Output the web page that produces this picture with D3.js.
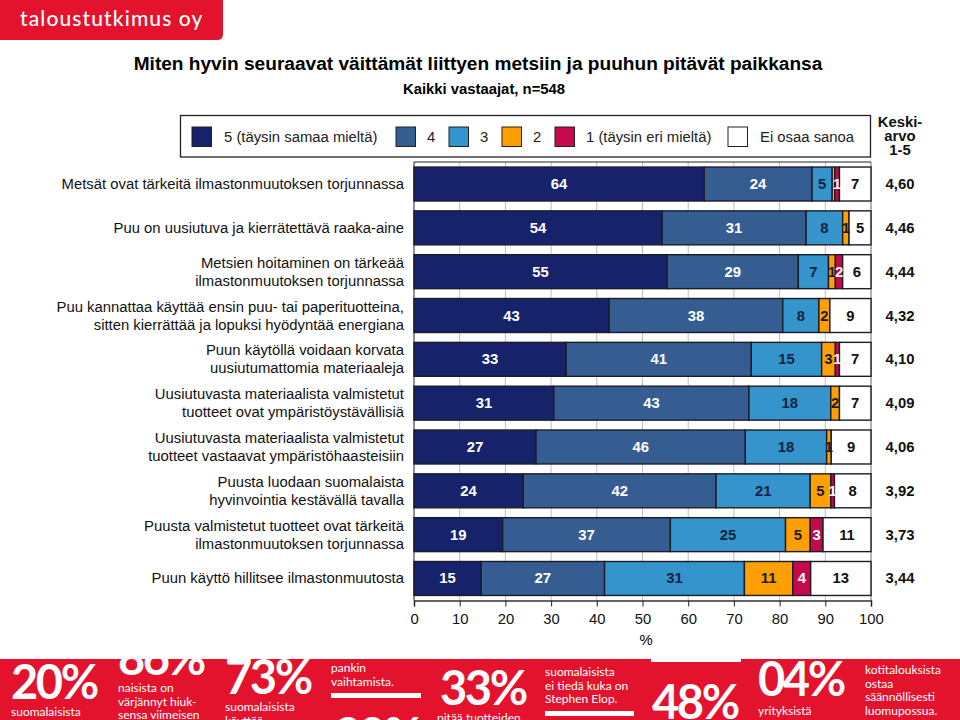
<!DOCTYPE html>
<html lang="fi">
<head>
<meta charset="utf-8">
<title>Metsät ja puu</title>
<script src="https://cdn.jsdelivr.net/npm/d3@7"></script>
<style>
    html, body { margin: 0; padding: 0; background: #fff; }
    svg { display: block; }
    text { font-family: "Liberation Sans", Arial, sans-serif; }
    .promo text { font-family: Lato, sans-serif; fill: #fff; }
</style>
</head>
<body>
<script>
"use strict";

// Data:
var statements = [
    ["Metsät ovat tärkeitä ilmastonmuutoksen torjunnassa"],
    ["Puu on uusiutuva ja kierrätettävä raaka-aine"],
    ["Metsien hoitaminen on tärkeää", "ilmastonmuutoksen torjunnassa"],
    ["Puu kannattaa käyttää ensin puu- tai paperituotteina,", "sitten kierrättää ja lopuksi hyödyntää energiana"],
    ["Puun käytöllä voidaan korvata", "uusiutumattomia materiaaleja"],
    ["Uusiutuvasta materiaalista valmistetut", "tuotteet ovat ympäristöystävällisiä"],
    ["Uusiutuvasta materiaalista valmistetut", "tuotteet vastaavat ympäristöhaasteisiin"],
    ["Puusta luodaan suomalaista", "hyvinvointia kestävällä tavalla"],
    ["Puusta valmistetut tuotteet ovat tärkeitä", "ilmastonmuutoksen torjunnassa"],
    ["Puun käyttö hillitsee ilmastonmuutosta"]
];

var answerNames = ["5 (täysin samaa mieltä)", "4", "3", "2", "1 (täysin eri mieltä)", "Ei osaa sanoa"];
var answerColors = ["#16236a", "#355d92", "#3494cb", "#ff9f00", "#c40a4a", "#ffffff"];
var labelColors = ["#ffffff", "#ffffff", "#14233f", "#1a1a1a", "#ffffff", "#111111"];

var shares5 = [63.5, 54.3, 55.4, 42.7, 33.3, 30.6, 26.7, 23.9, 19.4, 14.7];
var shares4 = [23.6, 31.5, 28.7, 38.0, 40.5, 42.7, 45.8, 42.2, 36.7, 27.0];
var shares3 = [4.4, 8.0, 6.6, 7.9, 15.4, 17.9, 17.8, 20.6, 25.2, 30.6];
var shares2 = [0.6, 1.4, 1.5, 2.4, 3.0, 1.9, 1.0, 4.5, 5.4, 10.6];
var shares1 = [1.0, 0, 1.6, 0, 0.9, 0, 0, 0.8, 2.8, 3.9];
var sharesEos = [6.9, 4.8, 6.2, 9.0, 6.9, 6.9, 8.7, 8.0, 10.5, 13.2];

// Printed labels, "" = no label in the picture
var labels5 = ["64", "54", "55", "43", "33", "31", "27", "24", "19", "15"];
var labels4 = ["24", "31", "29", "38", "41", "43", "46", "42", "37", "27"];
var labels3 = ["5", "8", "7", "8", "15", "18", "18", "21", "25", "31"];
var labels2 = ["", "1", "1", "2", "3", "2", "1", "5", "5", "11"];
var labels1 = ["1", "", "2", "", "1", "", "", "1", "3", "4"];
var labelsEos = ["7", "5", "6", "9", "7", "7", "9", "8", "11", "13"];

var means = ["4,60", "4,46", "4,44", "4,32", "4,10", "4,09", "4,06", "3,92", "3,73", "3,44"];
var xTicks = [0, 10, 20, 30, 40, 50, 60, 70, 80, 90, 100];

var allShares = [shares5, shares4, shares3, shares2, shares1, sharesEos];
var allLabels = [labels5, labels4, labels3, labels2, labels1, labelsEos];

// Layout:
var width = 960, height = 720;
var plot = { left: 414, right: 871, top: 162, bottom: 600.5 };
var legendX = [192, 396, 449, 502, 555, 728];
var fontSize = "14.85px";

var svg = d3.select("body").append("svg")
    .attr("width", width)
    .attr("height", height);

var x = d3.scaleLinear().domain([0, 100]).range([plot.left, plot.right]);
var y = d3.scaleBand()
    .domain(d3.range(statements.length))
    .range([plot.top, plot.bottom])
    .paddingInner(0.225)
    .paddingOuter(0.115);

var rows = statements.map(function (s, i) {
    var row = { index: i };
    allShares.forEach(function (serie, k) { row[k] = serie[i]; });
    return row;
});
var stacked = d3.stack().keys(d3.range(allShares.length))(rows);

drawHeader();
drawGrid();
drawBars();
drawLabels();
drawLegend();
drawPromo();

function drawHeader() {
    svg.append("path")
        .attr("d", "M0,0H223V34Q223,40 217,40H0Z")
        .attr("fill", "#e4132d");
    svg.append("text")
        .attr("x", 20).attr("y", 26)
        .attr("fill", "#fff")
        .style("font-family", "Lato, sans-serif")
        .style("font-size", "21px")
        .style("font-weight", 500)
        .style("letter-spacing", "1.1px")
        .text("taloustutkimus oy");
    svg.append("text")
        .attr("x", 478).attr("y", 70)
        .attr("text-anchor", "middle")
        .style("font-size", "19.1px").style("font-weight", "bold")
        .text("Miten hyvin seuraavat väittämät liittyen metsiin ja puuhun pitävät paikkansa");
    svg.append("text")
        .attr("x", 484).attr("y", 94)
        .attr("text-anchor", "middle")
        .style("font-size", fontSize).style("font-weight", "bold")
        .text("Kaikki vastaajat, n=548");
}

function drawGrid() {
    svg.append("g").selectAll("line")
        .data(xTicks.slice(1, -1))
        .enter().append("line")
        .attr("x1", x).attr("x2", x)
        .attr("y1", plot.top).attr("y2", plot.bottom)
        .attr("stroke", "#bdbdbd");

    svg.append("line")
        .attr("x1", plot.right).attr("x2", plot.right)
        .attr("y1", plot.top).attr("y2", plot.bottom)
        .attr("stroke", "#9a9a9a").attr("stroke-width", 1.5);
    svg.append("line")
        .attr("x1", plot.left).attr("x2", plot.right)
        .attr("y1", plot.top).attr("y2", plot.top)
        .attr("stroke", "#222");
    svg.append("line")
        .attr("x1", plot.left).attr("x2", plot.left)
        .attr("y1", plot.top).attr("y2", plot.bottom)
        .attr("stroke", "#222");

    var axis = svg.append("g")
        .attr("transform", "translate(0," + plot.bottom + ")")
        .call(d3.axisBottom(x).tickValues(xTicks).tickSize(6).tickPadding(7));
    axis.select(".domain").attr("stroke", "#333").attr("stroke-width", 1.5);
    axis.selectAll("line").attr("stroke", "#222");
    axis.selectAll("text")
        .attr("fill", "#111")
        .style("font-family", "'Liberation Sans', Arial, sans-serif")
        .style("font-size", fontSize);

    svg.append("text")
        .attr("x", 646).attr("y", 645)
        .attr("text-anchor", "middle")
        .style("font-size", fontSize)
        .text("%");
}

function drawBars() {
    svg.append("g").selectAll("g")
        .data(stacked)
        .enter().append("g")
        .attr("fill", function (d) { return answerColors[d.key]; })
        .selectAll("rect")
        .data(function (d) { return d.filter(function (p) { return p[1] > p[0]; }); })
        .enter().append("rect")
        .attr("x", function (d) { return x(d[0]); })
        .attr("y", function (d) { return y(d.data.index); })
        .attr("width", function (d) { return x(d[1]) - x(d[0]); })
        .attr("height", y.bandwidth())
        .attr("stroke", "#1c1c28")
        .attr("stroke-width", 1.4);
}

function drawLabels() {
    // values inside the bars
    stacked.forEach(function (serie) {
        svg.append("g").selectAll("text")
            .data(serie)
            .enter().append("text")
            .attr("x", function (d) { return x((d[0] + d[1]) / 2); })
            .attr("y", function (d) { return y(d.data.index) + y.bandwidth() / 2 + 5; })
            .attr("text-anchor", "middle")
            .attr("fill", labelColors[serie.key])
            .style("font-size", fontSize)
            .style("font-weight", "bold")
            .text(function (d) { return allLabels[serie.key][d.data.index]; });
    });

    // statements on the left
    var cats = svg.append("g").selectAll("text")
        .data(statements)
        .enter().append("text")
        .attr("text-anchor", "end")
        .attr("fill", "#111")
        .style("font-size", fontSize);
    cats.selectAll("tspan")
        .data(function (d, i) {
            return d.map(function (line, n) {
                var mid = y(i) + y.bandwidth() / 2 + 5;
                return { line: line, y: mid + (n - (d.length - 1) / 2) * 18 };
            });
        })
        .enter().append("tspan")
        .attr("x", 404)
        .attr("y", function (d) { return d.y; })
        .text(function (d) { return d.line; });

    // means on the right
    svg.append("g").selectAll("text")
        .data(means)
        .enter().append("text")
        .attr("x", 900)
        .attr("y", function (d, i) { return y(i) + y.bandwidth() / 2 + 5; })
        .attr("text-anchor", "middle")
        .attr("fill", "#111")
        .style("font-size", fontSize).style("font-weight", "bold")
        .text(function (d) { return d; });

    svg.append("g").selectAll("text")
        .data(["Keski-", "arvo", "1-5"])
        .enter().append("text")
        .attr("x", 900)
        .attr("y", function (d, i) { return 127 + i * 14; })
        .attr("text-anchor", "middle")
        .attr("fill", "#111")
        .style("font-size", fontSize).style("font-weight", "bold")
        .text(function (d) { return d; });
}

function drawLegend() {
    svg.append("rect")
        .attr("x", 180.5).attr("y", 115.5)
        .attr("width", 690).attr("height", 41.5)
        .attr("fill", "#fff")
        .attr("stroke", "#222").attr("stroke-width", 1.3);

    var items = svg.append("g").selectAll("g")
        .data(answerNames)
        .enter().append("g")
        .attr("transform", function (d, i) { return "translate(" + legendX[i] + ",127)"; });
    items.append("rect")
        .attr("width", 19.5).attr("height", 19.5)
        .attr("fill", function (d, i) { return answerColors[i]; })
        .attr("stroke", "#222");
    items.append("text")
        .attr("x", function (d, i) { return i == 0 || i == 5 ? 32 : 31; })
        .attr("y", 14.5)
        .attr("fill", "#222")
        .style("font-size", fontSize)
        .text(function (d) { return d; });
}

// Advert strip along the bottom edge, cut off by the page
function drawPromo() {
    svg.append("clipPath").attr("id", "promoClip")
        .append("rect").attr("x", 0).attr("y", 659).attr("width", width).attr("height", 61);

    var promo = svg.append("g").attr("class", "promo").attr("clip-path", "url(#promoClip)");
    promo.append("rect")
        .attr("x", 0).attr("y", 659).attr("width", width).attr("height", 61)
        .attr("fill", "#e4132d");
    promo.append("rect")
        .attr("x", 651).attr("y", 659).attr("width", 90).attr("height", 3)
        .attr("fill", "#fff");
    promo.append("rect").attr("x", 331).attr("y", 693).attr("width", 90).attr("height", 5).attr("fill", "#fff");
    promo.append("rect").attr("x", 545).attr("y", 711).attr("width", 89).attr("height", 5).attr("fill", "#fff");

    function big(str, px, py) {
        promo.append("text")
            .attr("x", px).attr("y", py)
            .style("font-size", "47px")
            .style("font-weight", 700)
            .style("letter-spacing", "-2.4px")
            .text(str);
    }
    function small(lines, px, py) {
        lines.forEach(function (line, i) {
            promo.append("text")
                .attr("x", px).attr("y", py + i * 13.5)
                .style("font-size", "12px")
                .text(line);
        });
    }

    big("20%", 11, 699);
    small(["suomalaisista"], 11, 716);
    big("86%", 118, 675);
    small(["naisista on", "värjännyt hiuk-", "sensa viimeisen"], 118, 692);
    big("73%", 225, 694);
    small(["suomalaisista", "käyttää"], 225, 711);
    small(["pankin", "vaihtamista."], 331, 672);
    big("20%", 334, 752);
    big("33%", 440, 705);
    small(["pitää tuotteiden"], 437, 722);
    small(["suomalaisista", "ei tiedä kuka on", "Stephen Elop."], 545, 676);
    big("48%", 652, 719);
    big("04%", 758, 696);
    small(["yrityksistä"], 758, 715);
    small(["kotitalouksista", "ostaa", "säännöllisesti", "luomupossua."], 865, 674);
}
</script>
</body>
</html>
